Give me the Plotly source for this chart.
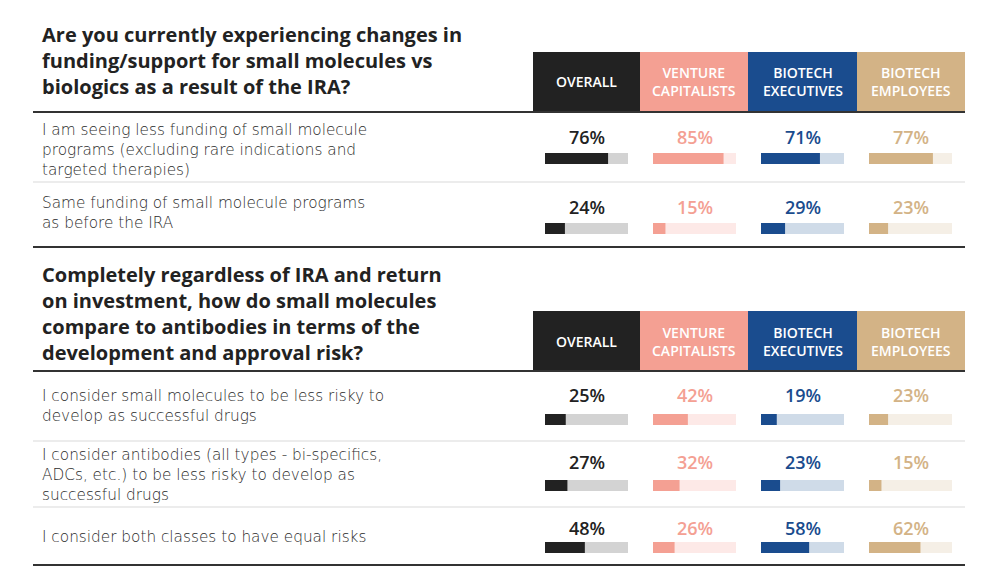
import plotly.graph_objects as go

# ---------------------------------------------------------------- data

GROUPS = ["OVERALL", "VENTURE<br>CAPITALISTS", "BIOTECH<br>EXECUTIVES", "BIOTECH<br>EMPLOYEES"]

Q1_TITLE = ("Are you currently experiencing changes in<br>"
            "funding/support for small molecules vs<br>"
            "biologics as a result of the IRA?")
Q1_ANSWERS = [
    "I am seeing less funding of small molecule<br>programs (excluding rare indications and<br>targeted therapies)",
    "Same funding of small molecule programs<br>as before the IRA",
]
Q1_OVERALL = [76, 24]
Q1_VC = [85, 15]
Q1_EXEC = [71, 29]
Q1_EMPL = [77, 23]

Q2_TITLE = ("Completely regardless of IRA and return<br>"
            "on investment, how do small molecules<br>"
            "compare to antibodies in terms of the<br>"
            "development and approval risk?")
Q2_ANSWERS = [
    "I consider small molecules to be less risky to<br>develop as successful drugs",
    "I consider antibodies (all types - bi-specifics,<br>ADCs, etc.) to be less risky to develop as<br>successful drugs",
    "I consider both classes to have equal risks",
]
Q2_OVERALL = [25, 27, 48]
Q2_VC = [42, 32, 26]
Q2_EXEC = [19, 23, 58]
Q2_EMPL = [23, 15, 62]

# ---------------------------------------------------------------- styling / layout

W, H = 1000, 584
OFF = 8  # page body margin in the browser pushes the plot 8px right/down
MAIN = ["#222222", "#f4a093", "#1a4c8e", "#d3b386"]
TRACK = ["#d3d3d3", "#fde9e7", "#cfdbe8", "#f5efe6"]
FONT = "Open Sans"
LABEL_FONT = "DejaVu Sans"

BOX_X = [(533, 640), (640, 748), (748, 857), (857, 965)]
BAR_X = [(545, 628), (653, 736), (761, 844), (869, 952)]

# pixel rows (y from top, in screen coordinates)
SECTIONS = [
    dict(title=Q1_TITLE, answers=Q1_ANSWERS,
         values=[Q1_OVERALL, Q1_VC, Q1_EXEC, Q1_EMPL],
         title_y=60, box=(52, 112), label_y=[150, 213], bar_y=[158.5, 228.5],
         pct_y=[137, 207], light=[182], bottom=247),
    dict(title=Q2_TITLE, answers=Q2_ANSWERS,
         values=[Q2_OVERALL, Q2_VC, Q2_EXEC, Q2_EMPL],
         title_y=313, box=(311, 371), label_y=[406, 475, 537], bar_y=[419.5, 485.5, 547.5],
         pct_y=[395, 462, 528], light=[441, 507], bottom=565),
]


def px(x):
    return (x - OFF) / W


def py(y):
    return 1 - (y - OFF) / H


fig = go.Figure()

# ---------------------------------------------------------------- bars
for sec in SECTIONS:
    for c in range(4):
        ax = "x" if c == 0 else f"x{c + 1}"
        fig.add_trace(go.Bar(
            x=[100] * len(sec["bar_y"]), y=sec["bar_y"], orientation="h",
            width=11, marker=dict(color=TRACK[c], line_width=0),
            xaxis=ax, yaxis="y", hoverinfo="skip", showlegend=False,
        ))
        fig.add_trace(go.Bar(
            x=sec["values"][c], y=sec["bar_y"], orientation="h",
            width=11, marker=dict(color=MAIN[c], line_width=0),
            xaxis=ax, yaxis="y", showlegend=False,
            hovertemplate="%{x}%<extra></extra>",
        ))

shapes = []
annotations = []

for sec in SECTIONS:
    # question title
    annotations.append(dict(
        text=sec["title"], xref="paper", yref="paper", x=px(40), y=py(sec["title_y"]),
        xanchor="left", yanchor="middle", align="left", showarrow=False,
        font=dict(family=FONT, size=20, color="#222222", weight="bold"),
    ))
    # header boxes
    y0, y1 = sec["box"]
    for c, (x0, x1) in enumerate(BOX_X):
        shapes.append(dict(type="rect", xref="paper", yref="paper",
                           x0=px(x0), x1=px(x1), y0=py(y1), y1=py(y0),
                           fillcolor=MAIN[c], line_width=0, layer="below"))
        annotations.append(dict(
            text=GROUPS[c], xref="paper", yref="paper",
            x=px((x0 + x1) / 2), y=py((y0 + y1) / 2),
            xanchor="center", yanchor="middle", align="center", showarrow=False,
            font=dict(family=FONT, size=14, color="white", weight=600),
        ))
    # rules
    for yy, col, wd in [(y1, "#333333", 2), (sec["bottom"], "#333333", 2)] + \
            [(l, "#d9d9d9", 1) for l in sec["light"]]:
        shapes.append(dict(type="line", xref="paper", yref="paper",
                           x0=px(33), x1=px(965), y0=py(yy), y1=py(yy),
                           line=dict(color=col, width=wd)))
    # answer labels
    for txt, ly in zip(sec["answers"], sec["label_y"]):
        annotations.append(dict(
            text=txt, xref="paper", yref="paper", x=px(40), y=py(ly),
            xanchor="left", yanchor="middle", align="left", showarrow=False,
            font=dict(family=LABEL_FONT, size=15.3, color="#2b2b2b", weight=200),
        ))
    # percentage labels
    for c in range(4):
        ax = "x" if c == 0 else f"x{c + 1}"
        for v, ty in zip(sec["values"][c], sec["pct_y"]):
            annotations.append(dict(
                text=f"{v}%", xref=ax, yref="y", x=50, y=ty,
                xanchor="center", yanchor="middle", showarrow=False,
                font=dict(family=FONT, size=18, color=MAIN[c], weight=600),
            ))

layout_axes = {}
for c, (x0, x1) in enumerate(BAR_X):
    key = "xaxis" if c == 0 else f"xaxis{c + 1}"
    layout_axes[key] = dict(domain=[px(x0), px(x1)], range=[0, 100], anchor="y",
                            visible=False, fixedrange=True)

fig.update_layout(
    width=W, height=H,
    margin=dict(l=0, r=0, t=0, b=0),
    paper_bgcolor="white", plot_bgcolor="rgba(0,0,0,0)",
    barmode="overlay",
    yaxis=dict(domain=[0, 1], range=[H + OFF, OFF], visible=False, fixedrange=True),
    shapes=shapes, annotations=annotations,
    **layout_axes,
)

fig.write_html("out.html")
